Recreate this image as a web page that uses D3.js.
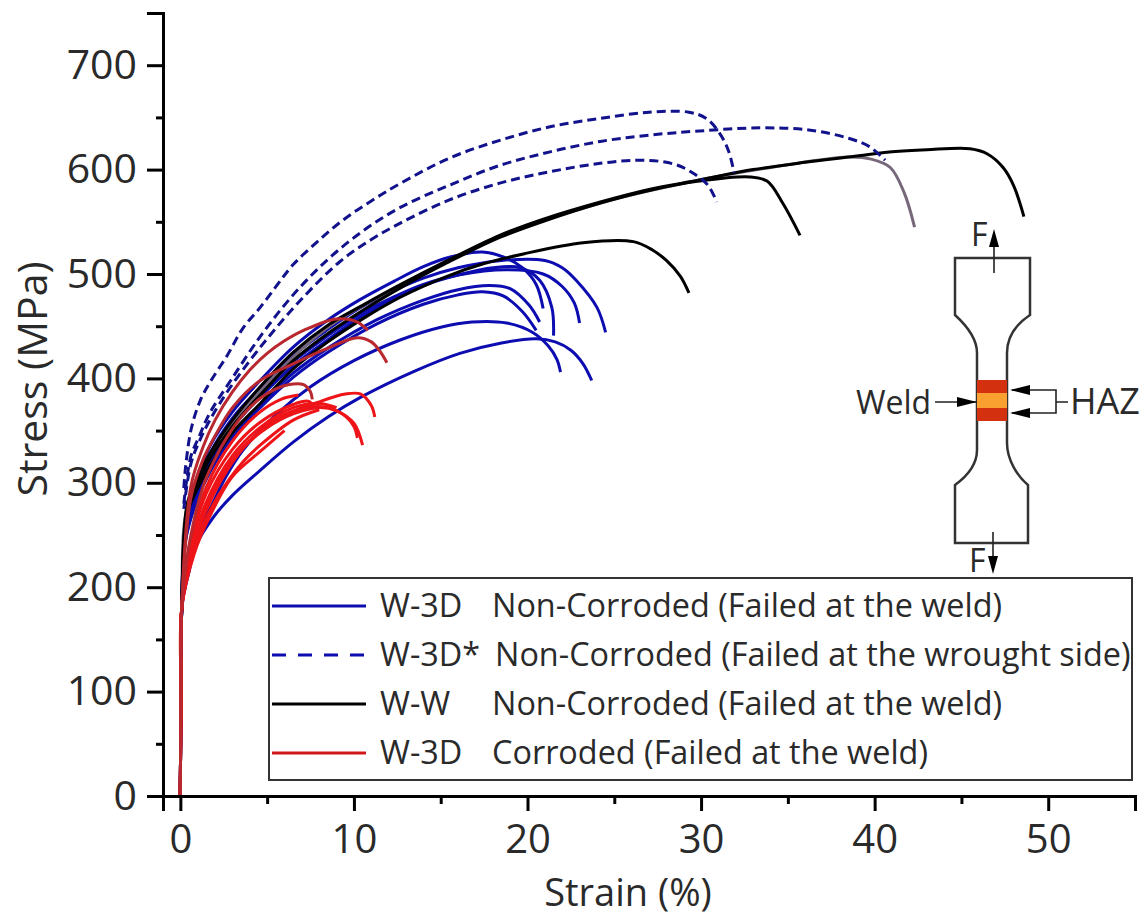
<!DOCTYPE html>
<html lang="en">
<head>
<meta charset="UTF-8">
<title>Stress strain curves</title>
<script src="https://d3js.org/d3.v7.min.js"></script>
<style>
  html, body { margin: 0; padding: 0; background: #fff; }
  text { font-family: "Open Sans", sans-serif; fill: #2a2a2a; }
</style>
</head>
<body>
<div id="chart-container"></div>
<script>
// curves, [strain %, stress MPa]
const start = [[0, 0], [0.03, 100], [0.08, 180]];

const weldCurves3d = [
  [...start, [0.5, 215], [0.9, 240], [1.9, 267], [3, 288], [4.6, 312], [6.5, 339], [8.5, 363], [10.4, 382], [13.5, 407], [16.1, 424], [18.5, 434], [20.5, 438], [21.6, 435], [22.5, 427], [23.2, 414], [23.7, 398]],
  [...start, [0.4, 225], [0.9, 250], [1.7, 275], [2.6, 305], [3.6, 331], [5.5, 365], [7.5, 392], [10, 417], [12.7, 437], [15, 449], [16.8, 454], [18.8, 453], [20.3, 444], [21.2, 431], [21.7, 418], [21.9, 406]],
  [...start, [0.3, 260], [1, 305], [1.7, 335], [3, 368], [4.6, 398], [6.5, 430], [8.5, 456], [10.3, 475], [12.3, 493], [14, 507], [15.5, 516], [17.4, 521], [18.8, 515], [19.7, 506], [20.5, 490], [20.9, 467]],
  [...start, [0.3, 255], [1, 300], [1.7, 328], [3, 362], [4.6, 391], [6.5, 422], [8.5, 447], [10.3, 467], [12.3, 484], [14, 496], [16, 506], [18.5, 513], [21, 513], [22, 506], [22.8, 494], [24, 468], [24.5, 444]],
  [...start, [0.3, 250], [1, 295], [1.7, 322], [3, 356], [4.6, 385], [6.5, 416], [8.5, 441], [10.3, 461], [12.3, 478], [14, 490], [16, 499], [18.8, 504], [20.9, 500], [22, 488], [22.7, 472], [23, 453]],
  [...start, [0.3, 250], [1, 292], [1.7, 320], [3, 353], [4.6, 382], [6.5, 412], [8.5, 437], [10.3, 458], [12.3, 476], [14, 489], [16, 499], [18, 506], [19.6, 506], [20.7, 494], [21.4, 468], [21.5, 441]],
  [...start, [0.3, 245], [1, 288], [1.7, 313], [3, 347], [4.6, 375], [6.5, 405], [8.5, 429], [11.3, 456], [14, 475], [16, 485], [17.8, 489], [19, 486], [20.1, 470], [20.7, 454]],
  [...start, [0.3, 245], [1, 285], [1.7, 310], [3, 344], [4.6, 372], [6.5, 401], [8.5, 425], [11.3, 452], [14, 471], [16, 480], [17.4, 483], [18.6, 479], [19.7, 464], [20.5, 446]]
];

const wroughtCurves3d = [
  [[0.2, 295], [0.3, 315], [0.63, 352], [1.15, 379], [1.7, 396], [2.7, 422], [3.6, 448], [4.6, 468], [5.6, 490], [6.5, 509], [7.9, 531], [9.4, 552], [11, 570], [12.7, 587], [15.5, 611], [18.4, 628], [21.3, 641], [24.2, 649], [27, 655], [29.3, 655], [30.3, 649], [31.1, 634], [31.6, 617], [31.9, 597]],
  [[0.2, 280], [0.6, 325], [1.1, 345], [1.7, 367], [2.9, 398], [4.6, 440], [6.5, 480], [8.5, 514], [10.5, 541], [12.7, 564], [15.5, 585], [18.4, 604], [21.3, 617], [24.2, 627], [27, 633], [29.9, 637], [33.4, 640], [36.2, 638], [38.5, 630], [39.7, 622], [40.6, 609]],
  [[0.2, 275], [0.6, 318], [1.1, 340], [1.7, 360], [2.9, 392], [5, 438], [7.1, 478], [9.2, 512], [11, 533], [12.7, 549], [15.5, 571], [18.4, 587], [21.3, 598], [24.2, 606], [26.8, 609], [28.5, 605], [29.5, 597], [30.4, 585], [30.9, 569]]
];

const weldCurvesWW = [
  [...start, [0.4, 280], [1, 305], [1.7, 328], [3, 360], [4.6, 392], [6.5, 425], [8.5, 451], [10.5, 470], [12.7, 490], [15.4, 513], [18.4, 537], [21, 553], [24.2, 569], [27, 581], [29.9, 590], [33, 600], [36, 607], [38.5, 612], [41, 617], [43, 619], [45.5, 620], [46.5, 615], [47.4, 602], [48, 585], [48.6, 555]],
  [...start, [0.4, 275], [1, 300], [1.7, 323], [3, 354], [4.6, 384], [6.5, 417], [8.5, 443], [10.5, 465], [12.7, 487], [15.4, 511], [18.4, 535], [21, 551], [24.2, 568], [27, 580], [29.9, 589], [32.8, 593], [33.8, 589], [34.7, 568], [35.7, 537]],
  [...start, [0.4, 270], [1, 295], [1.7, 316], [3, 348], [4.6, 376], [6.5, 409], [8.5, 435], [10.5, 457], [12.7, 478], [15.4, 498], [17.5, 510], [19.7, 519], [23.2, 530], [26.1, 531], [27.2, 523], [28, 513], [28.8, 498], [29.3, 482]]
];

// this one prints grey-purple in the original
const weldCurveWWGrey = [...start, [0.4, 278], [1.7, 326], [4.6, 388], [8.5, 449], [12.7, 489], [15.4, 512], [18.4, 536], [24.2, 568], [29.9, 590], [34, 602], [38.5, 612], [39.8, 610], [40.9, 602], [41.7, 578], [42.3, 545]];

const corrodedCurves = [
  [...start, [0.6, 296], [1.3, 334], [2, 360], [3, 387], [4, 408], [5, 424], [6, 436], [7.1, 446], [9, 457], [10.2, 454], [10.8, 446]],
  [...start, [0.6, 285], [1.3, 322], [2, 345], [3, 372], [4.6, 398], [6.5, 414], [8.5, 429], [10.2, 439], [11, 435], [11.5, 426], [11.9, 415]],
  [...start, [0.5, 240], [1.3, 296], [2, 323], [2.7, 344], [3.6, 365], [4.6, 381], [5.5, 390], [6.2, 394], [7.1, 394], [7.5, 387], [7.6, 380]],
  [...start, [0.5, 225], [1.4, 270], [2.7, 312], [4, 340], [5.6, 362], [7.9, 377], [9.5, 385], [10.4, 385], [11, 374], [11.2, 363]],
  [...start, [0.5, 230], [1.5, 280], [3, 322], [4.6, 348], [6, 363], [7.3, 372], [8.5, 372], [9.5, 364], [10, 354], [10.2, 343]],
  [...start, [0.5, 222], [1.7, 284], [3.6, 334], [5, 353], [6.5, 366], [8, 372], [9, 369], [10, 357], [10.5, 336]],
  [...start, [0.5, 235], [1.5, 290], [3, 332], [4.6, 358], [6.5, 375], [7.4, 378], [7.7, 372]],
  [...start, [0.5, 228], [1.4, 278], [3, 326], [4.6, 353], [6.5, 372], [8, 376], [9, 372]],
  [...start, [0.5, 218], [1.2, 255], [2.2, 288], [3.6, 320], [4.6, 336], [6.5, 360], [8, 370]],
  [...start, [0.5, 238], [1.5, 296], [3, 340], [4.6, 368], [5.8, 380], [6.8, 384]],
  [...start, [0.8, 232], [1.7, 268], [3, 306], [4.6, 330], [6, 350]]
];

const xTicks = [0, 10, 20, 30, 40, 50];
const xMinorTicks = [5, 15, 25, 35, 45, 55];
const yTicks = [0, 100, 200, 300, 400, 500, 600, 700];
const yMinorTicks = [50, 150, 250, 350, 450, 550, 650, 750];

const legendNames = ['W-3D', 'W-3D*', 'W-W', 'W-3D'];
const legendNotes = [
  'Non-Corroded (Failed at the weld)',
  'Non-Corroded (Failed at the wrought side)',
  'Non-Corroded (Failed at the weld)',
  'Corroded (Failed at the weld)'
];
const legendColors = ['#0c0cb0', '#0c0cb0', '#000000', '#d0181c'];
const legendDashes = [null, '14 12', null, null];

const width = 1148;
const height = 918;

const svg = d3.select('#chart-container')
  .append('svg')
  .attr('width', width)
  .attr('height', height)
  .style('display', 'block');

const xScale = d3.scaleLinear().domain([-1, 55]).range([163, 1135]);
const yScale = d3.scaleLinear().domain([0, 750]).range([796, 13]);

const line = d3.line()
  .x(d => xScale(d[0]))
  .y(d => yScale(d[1]))
  .curve(d3.curveCatmullRom.alpha(0.5));

function drawCurves(curves, color, w, dash) {
  svg.append('g').selectAll('path')
    .data(curves)
    .enter()
    .append('path')
    .attr('fill', 'none')
    .attr('stroke', color)
    .attr('stroke-width', w)
    .attr('stroke-dasharray', dash)
    .attr('d', line);
}

drawCurves(weldCurves3d, '#0c0cb0', 3, null);
drawCurves([weldCurveWWGrey], '#77677a', 3, null);
drawCurves(weldCurvesWW, '#000000', 3, null);
drawCurves(wroughtCurves3d, '#12128c', 3, '9 5');
drawCurves(corrodedCurves.slice(3), '#ee1418', 3, null);
drawCurves(corrodedCurves.slice(0, 3), '#b9282f', 3, null);

// axes
const xAxis = svg.append('g')
  .attr('transform', 'translate(0,796)')
  .call(d3.axisBottom(xScale).tickValues(xTicks).tickSize(15).tickPadding(14).tickFormat(d3.format('d')));
const yAxis = svg.append('g')
  .attr('transform', 'translate(163,0)')
  .call(d3.axisLeft(yScale).tickValues(yTicks).tickSize(16).tickPadding(10).tickFormat(d3.format('d')));
svg.append('g')
  .attr('transform', 'translate(0,796)')
  .call(d3.axisBottom(xScale).tickValues(xMinorTicks).tickSize(8).tickFormat(''));
svg.append('g')
  .attr('transform', 'translate(163,0)')
  .call(d3.axisLeft(yScale).tickValues(yMinorTicks).tickSize(7).tickFormat(''));

svg.selectAll('.domain, .tick line').attr('stroke', '#000').attr('stroke-width', 3);
svg.selectAll('.tick text').style('font-family', '"Open Sans", sans-serif').attr('fill', '#2a2a2a');
xAxis.selectAll('.tick text').style('font-size', '40px');
yAxis.selectAll('.tick text').style('font-size', '41px');

svg.append('text')
  .attr('x', 628).attr('y', 906)
  .attr('text-anchor', 'middle')
  .style('font-size', '38px')
  .text('Strain (%)');
svg.append('text')
  .attr('transform', 'translate(47,379) rotate(-90)')
  .attr('text-anchor', 'middle')
  .style('font-size', '41px')
  .text('Stress (MPa)');

// legend
const legend = svg.append('g');
legend.append('rect')
  .attr('x', 269).attr('y', 578).attr('width', 863).attr('height', 202)
  .attr('fill', '#fff').attr('stroke', '#333').attr('stroke-width', 2);

const legendRows = legend.selectAll('g')
  .data(legendNames)
  .enter()
  .append('g')
  .attr('transform', (d, i) => `translate(0,${[606, 655, 704, 753][i]})`);
legendRows.append('line')
  .attr('x1', 272).attr('x2', 366)
  .attr('stroke', (d, i) => legendColors[i])
  .attr('stroke-width', 3)
  .attr('stroke-dasharray', (d, i) => legendDashes[i]);
legendRows.append('text')
  .attr('x', 380).attr('y', 11)
  .style('font-size', '32.4px')
  .text(d => d);
legendRows.append('text')
  .attr('x', (d, i) => [492, 495, 492, 492][i]).attr('y', 11)
  .style('font-size', '32.4px')
  .text((d, i) => legendNotes[i]);

// specimen sketch
const inset = svg.append('g');
inset.append('path')
  .attr('d', 'M955,258 H1030 V315 C1015,325 1007,338 1007,353 V443 C1007,460 1018,477 1028,485 V543 H955 V485 C966,477 977,465 977,450 V353 C977,338 966,325 955,315 Z')
  .attr('fill', '#fff').attr('stroke', '#333').attr('stroke-width', 2.5);
inset.append('rect').attr('x', 977).attr('y', 380).attr('width', 30).attr('height', 41).attr('fill', '#d2300f');
inset.append('rect').attr('x', 977).attr('y', 393).attr('width', 30).attr('height', 15).attr('fill', '#f9a030');

inset.append('path')
  .attr('d', 'M994,273 V236 M993,532 V566 M935,402 H977 M1012,390 H1056 V413 H1012 M1056,402 H1068')
  .attr('fill', 'none').attr('stroke', '#222').attr('stroke-width', 1.6);
inset.append('path')
  .attr('d', 'M994,229 L999,247 H989 Z M993,574 L988,556 H998 Z M977,402 L957,397 V407 Z M1010,390 L1030,385 V395 Z M1010,413 L1030,408 V418 Z')
  .attr('fill', '#000');

inset.selectAll('text')
  .data([['F', 971, 246], ['F', 969, 572], ['Weld', 856, 414], ['HAZ', 1070, 414]])
  .enter()
  .append('text')
  .attr('x', d => d[1])
  .attr('y', d => d[2])
  .style('font-size', d => d[0] === 'HAZ' ? '36px' : '32px')
  .text(d => d[0]);
</script>
</body>
</html>
